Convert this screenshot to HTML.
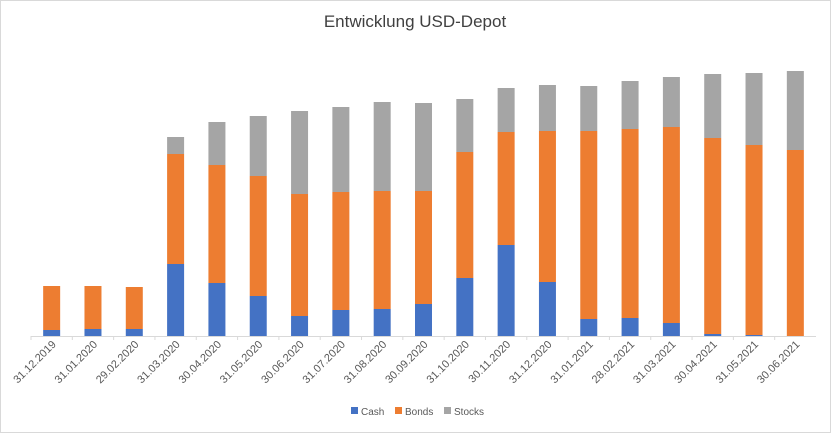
<!DOCTYPE html>
<html><head><meta charset="utf-8"><style>
body{margin:0;background:#fff;font-family:"Liberation Sans",sans-serif}
#c{position:relative;width:831px;height:433px;overflow:hidden}
</style></head><body>
<div id="c">
<svg id="s" width="831" height="433" xmlns="http://www.w3.org/2000/svg">
<rect x="0.5" y="0.5" width="830" height="432" fill="#fff" stroke="#d9d9d9"/>
<text x="415" y="27" text-anchor="middle" font-size="17" fill="#404040" font-family="Liberation Sans, sans-serif">Entwicklung USD-Depot</text>
<g id="bars"></g>
<g id="axis"></g>
<g>
<rect x="351" y="407" width="7" height="7" fill="#4472c4"/>
<text x="361" y="415" font-size="10" fill="#595959">Cash</text>
<rect x="395" y="407" width="7" height="7" fill="#ed7d31"/>
<text x="405" y="415" font-size="10" fill="#595959">Bonds</text>
<rect x="444" y="407" width="7" height="7" fill="#a5a5a5"/>
<text x="454" y="415" font-size="10" fill="#595959">Stocks</text>
</g>
</svg>
</div>
<script>
const categories=["31.12.2019","31.01.2020","29.02.2020","31.03.2020","30.04.2020","31.05.2020","30.06.2020","31.07.2020","31.08.2020","30.09.2020","31.10.2020","30.11.2020","31.12.2020","31.01.2021","28.02.2021","31.03.2021","30.04.2021","31.05.2021","30.06.2021"];
const cash=[6,7,7,72,53,40,20,26,27,32,58,91,54,17,18,13,2,1,0];
const bonds=[44,43,42,110,118,120,122,118,118,113,126,113,151,188,189,196,196,190,186];
const stocks=[0,0,0,17,43,60,83,85,89,88,53,44,46,45,48,50,64,72,79];
const NS="http://www.w3.org/2000/svg";
const x0=31,x1=816,base=336;
const slot=(x1-x0)/categories.length,bw=17;
function xs(i){return x0+slot*(i+0.5);}
function ys(v){return base-v;}
const bars=document.getElementById('bars'),axis=document.getElementById('axis');
const series=[[cash,"#4472c4","cash"],[bonds,"#ed7d31","bonds"],[stocks,"#a5a5a5","stocks"]];
categories.forEach((c,i)=>{
  let acc=0;
  series.forEach(([arr,col,nm])=>{
    const v=arr[i];
    if(v>0){
      const r=document.createElementNS(NS,'rect');
      r.setAttribute('x',xs(i)-bw/2);r.setAttribute('width',bw);
      r.setAttribute('y',ys(acc+v));r.setAttribute('height',ys(acc)-ys(acc+v));
      r.setAttribute('fill',col);
      
      
      bars.appendChild(r);
    }
    acc+=v;
  });
  const t=document.createElementNS(NS,'text');
  const tx=xs(i)+5,ty=base+9;
  t.setAttribute('x',tx);t.setAttribute('y',ty);
  t.setAttribute('text-anchor','end');t.setAttribute('font-size','11');t.setAttribute('fill','#595959');
  t.setAttribute('transform','rotate(-45 '+tx+' '+ty+')');
  t.textContent=c;
  
  
  axis.appendChild(t);
  const tk=document.createElementNS(NS,'line');
  const kx=x0+slot*i;
  tk.setAttribute('x1',kx);tk.setAttribute('x2',kx);tk.setAttribute('y1',base);tk.setAttribute('y2',base+4);
  tk.setAttribute('stroke','#d9d9d9');
  
  
  axis.appendChild(tk);
});
const l=document.createElementNS(NS,'line');
l.setAttribute('x1',x0);l.setAttribute('x2',x1);l.setAttribute('y1',base+0.5);l.setAttribute('y2',base+0.5);
l.setAttribute('stroke','#d9d9d9');


axis.appendChild(l);
</script>
</body></html>
